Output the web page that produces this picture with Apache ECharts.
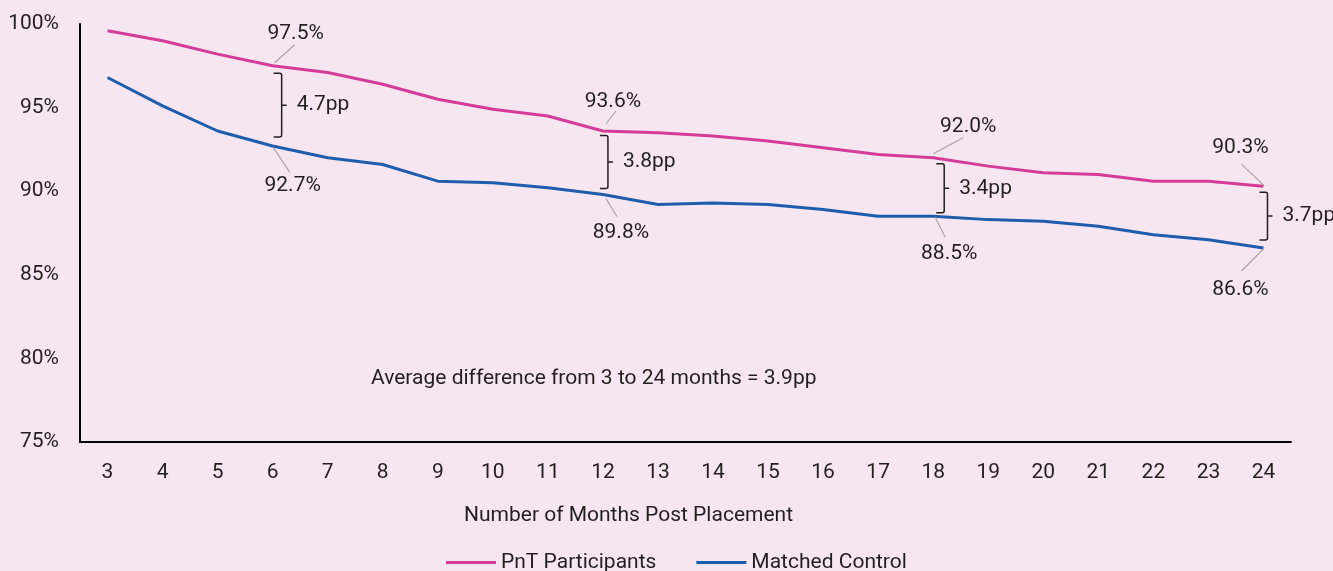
<!DOCTYPE html>
<html>
<head>
<meta charset="utf-8">
<title>Employment retention: PnT Participants vs Matched Control</title>
<script src="https://cdn.jsdelivr.net/npm/echarts@6/dist/echarts.min.js"></script>
<style>
  html, body { margin: 0; padding: 0; background: #f5e6f1; }
  #chart { width: 1333px; height: 571px; }
</style>
</head>
<body>
<div id="chart"></div>
<script>
// Months after placement
const months = ['3','4','5','6','7','8','9','10','11','12','13','14','15','16','17','18','19','20','21','22','23','24'];

// Share still in employment (%)
const pntParticipants = [99.6, 99.0, 98.2, 97.5, 97.1, 96.4, 95.5, 94.9, 94.5, 93.6, 93.5, 93.3, 93.0, 92.6, 92.2, 92.0, 91.5, 91.1, 91.0, 90.6, 90.6, 90.3];
const matchedControl  = [96.8, 95.1, 93.6, 92.7, 92.0, 91.6, 90.6, 90.5, 90.2, 89.8, 89.2, 89.3, 89.2, 88.9, 88.5, 88.5, 88.3, 88.2, 87.9, 87.4, 87.1, 86.6];

// Months that get value call-outs and a gap bracket
const calloutMonths = ['6', '12', '18', '24'];
const gapLabels = ['4.7pp', '3.8pp', '3.4pp', '3.7pp'];

// Y-axis tick labels
const yTicks = [75, 80, 85, 90, 95, 100];

const averageNote = 'Average difference from 3 to 24 months = 3.9pp';
const xAxisTitle = 'Number of Months Post Placement';

// Pixel offsets of each call-out relative to its point (layout only)
const calloutLayout = [
  { top: { text: [23, -32], lead: [[2, -3], [22, -21]] }, bottom: { text: [20, 40], lead: [[1, 2], [17, 26]] }, bracket: { dx: 9, inTop: 7.5, inBot: 9 } },
  { top: { text: [10, -29], lead: [[3, -7], [13, -20]] }, bottom: { text: [18, 38], lead: [[3, 4], [14, 22]] }, bracket: { dx: 5, inTop: 4.5, inBot: 6 } },
  { top: { text: [35, -31], lead: [[0, -4], [30, -20]] }, bottom: { text: [16, 37], lead: [[2, 1], [12, 21]] }, bracket: { dx: 11, inTop: 6, inBot: 3.5 } },
  { top: { text: [-23, -38], lead: [[0, -1], [-22, -22]] }, bottom: { text: [-23, 42], lead: [[0, 1], [-22, 23]] }, bracket: { dx: 4, inTop: 6, inBot: 8 } }
];

const PINK = '#d43c98';
const BLUE = '#1e5dab';
const INK = '#231f20';
const LEADER = '#a8a3a6';
const FONT = 'Roboto';
const FS = 21;

const calloutData = calloutMonths.map((m, i) => {
  const idx = months.indexOf(m);
  return [idx, pntParticipants[idx], matchedControl[idx], i];
});

function fmt(v) { return v.toFixed(1) + '%'; }

function renderCallout(params, api) {
  const idx = api.value(0);
  const hi = api.value(1);
  const lo = api.value(2);
  const k = api.value(3);
  const L = calloutLayout[k];
  const pTop = api.coord([idx, hi]);
  const pBot = api.coord([idx, lo]);
  const children = [];

  // value call-outs with leader lines
  [[pTop, L.top, hi], [pBot, L.bottom, lo]].forEach(([p, cfg, v]) => {
    children.push({
      type: 'line',
      shape: { x1: p[0] + cfg.lead[0][0], y1: p[1] + cfg.lead[0][1], x2: p[0] + cfg.lead[1][0], y2: p[1] + cfg.lead[1][1] },
      style: { stroke: LEADER, lineWidth: 1.2 }
    });
    children.push({
      type: 'text',
      x: p[0] + cfg.text[0], y: p[1] + cfg.text[1],
      style: { text: fmt(v), fill: INK, font: FS + 'px ' + FONT, align: 'center', verticalAlign: 'middle' }
    });
  });

  // right-facing brace between the two lines
  const b = L.bracket;
  const x = pTop[0] + b.dx;
  const y1 = pTop[1] + b.inTop;
  const y2 = pBot[1] - b.inBot;
  const ym = (y1 + y2) / 2;
  const hook = 8;
  const r = 2;
  children.push({
    type: 'path',
    shape: {
      pathData:
        'M' + (x - hook) + ' ' + y1 + ' L' + (x - r) + ' ' + y1 + ' Q' + x + ' ' + y1 + ' ' + x + ' ' + (y1 + r) +
        ' L' + x + ' ' + (y2 - r) + ' Q' + x + ' ' + y2 + ' ' + (x - r) + ' ' + y2 + ' L' + (x - hook) + ' ' + y2 +
        ' M' + x + ' ' + ym + ' L' + (x + 5) + ' ' + ym
    },
    style: { stroke: INK, lineWidth: 1.5, fill: null }
  });
  children.push({
    type: 'text',
    x: x + 15, y: ym,
    style: { text: gapLabels[k], fill: INK, font: FS + 'px ' + FONT, align: 'left', verticalAlign: 'middle' }
  });

  return { type: 'group', children: children };
}

const chart = echarts.init(document.getElementById('chart'), null, { renderer: 'canvas' });

chart.setOption({
  backgroundColor: '#f5e6f1',
  animation: false,
  textStyle: { fontFamily: FONT, color: INK },
  grid: { left: 80, right: 42, top: 24, bottom: 129, containLabel: false },
  legend: {
    left: 446, top: 552, padding: 0,
    itemWidth: 50, itemHeight: 3, itemGap: 40,
    icon: 'rect',
    textStyle: { fontSize: FS, color: INK, fontFamily: FONT },
    data: ['PnT Participants', 'Matched Control']
  },
  xAxis: {
    type: 'category',
    data: months,
    boundaryGap: true,
    axisLine: { lineStyle: { color: '#000', width: 2 } },
    axisTick: { show: false },
    axisLabel: { fontSize: FS, color: INK, margin: 20, fontFamily: FONT }
  },
  yAxis: {
    type: 'value',
    min: yTicks[0], max: yTicks[yTicks.length - 1], interval: 5,
    axisLine: { show: true, lineStyle: { color: '#000', width: 2 } },
    axisTick: { show: false },
    splitLine: { show: false },
    axisLabel: { fontSize: FS, color: INK, margin: 21, fontFamily: FONT, formatter: v => v + '%' }
  },
  graphic: [
    {
      type: 'text', left: 371, top: 368,
      style: { text: averageNote, fill: INK, font: FS + 'px ' + FONT }
    },
    {
      type: 'text', left: 464, top: 505,
      style: { text: xAxisTitle, fill: INK, font: FS + 'px ' + FONT }
    }
  ],
  series: [
    {
      name: 'PnT Participants', type: 'line', data: pntParticipants,
      symbol: 'none', lineStyle: { color: PINK, width: 3 }, itemStyle: { color: PINK }, z: 3
    },
    {
      name: 'Matched Control', type: 'line', data: matchedControl,
      symbol: 'none', lineStyle: { color: BLUE, width: 3 }, itemStyle: { color: BLUE }, z: 3
    },
    {
      name: 'callouts', type: 'custom', data: calloutData,
      renderItem: renderCallout, silent: true, z: 4,
      encode: { x: 0, y: 1 }
    }
  ]
});
</script>
</body>
</html>
